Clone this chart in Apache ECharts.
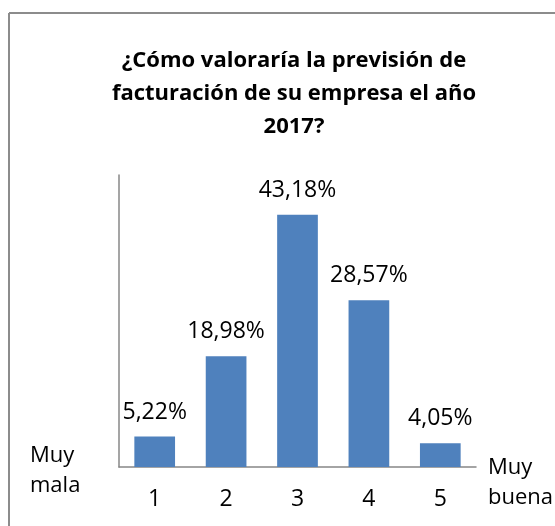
<!DOCTYPE html>
<html>
<head>
<meta charset="utf-8">
<script src="https://cdn.jsdelivr.net/npm/echarts@6/dist/echarts.min.js"></script>
<style>
html,body{margin:0;padding:0;background:#fff;}
#chart{width:555px;height:526px;}
</style>
</head>
<body>
<div id="chart"></div>
<script>
const titleText = "¿Cómo valoraría la previsión de\nfacturación de su empresa el año\n2017?";
const categories = ["1", "2", "3", "4", "5"];
const values = [5.22, 18.98, 43.18, 28.57, 4.05];
const leftEndLabel = "Muy\nmala";
const rightEndLabel = "Muy\nbuena";
const yMin = 0;
const yMax = 50;

const FONT = "'Open Sans', sans-serif";
const chart = echarts.init(document.getElementById('chart'), null, {renderer: 'canvas'});
chart.setOption({
  animation: false,
  backgroundColor: '#ffffff',
  title: {
    text: titleText,
    left: 289,
    top: 39,
    textAlign: 'center',
    textStyle: {
      fontFamily: FONT,
      fontWeight: 'bold',
      fontSize: 22,
      lineHeight: 33,
      color: '#000000'
    }
  },
  grid: {left: 119, right: 79, top: 175, bottom: 59, containLabel: false},
  xAxis: {
    type: 'category',
    data: categories,
    axisLine: {show: true, lineStyle: {color: '#878787', width: 1.5}},
    axisTick: {show: false},
    axisLabel: {fontFamily: FONT, fontSize: 23, color: '#000000', margin: 21}
  },
  yAxis: {
    type: 'value',
    min: yMin,
    max: yMax,
    axisLine: {show: true, lineStyle: {color: '#878787', width: 1.5}},
    axisTick: {show: false},
    axisLabel: {show: false},
    splitLine: {show: false}
  },
  series: [{
    type: 'bar',
    data: values,
    barWidth: '57%',
    itemStyle: {color: '#4F81BD'},
    label: {
      show: true,
      position: 'top',
      distance: 13,
      fontFamily: FONT,
      fontSize: 23,
      color: '#000000',
      formatter: p => p.value.toFixed(2).replace('.', ',') + '%'
    }
  }],
  graphic: [
    {type: 'line', shape: {x1: 9, y1: 13, x2: 555, y2: 13}, style: {stroke: '#8c8c8c', lineWidth: 2}},
    {type: 'line', shape: {x1: 9, y1: 13, x2: 9, y2: 526}, style: {stroke: '#8c8c8c', lineWidth: 2}},
    {type: 'text', left: 30, top: 441, style: {text: leftEndLabel, fontFamily: FONT, fontSize: 22, lineHeight: 30, fill: '#000000'}},
    {type: 'text', left: 488, top: 453, style: {text: rightEndLabel, fontFamily: FONT, fontSize: 22, lineHeight: 30, fill: '#000000'}}
  ]
});
</script>
</body>
</html>
